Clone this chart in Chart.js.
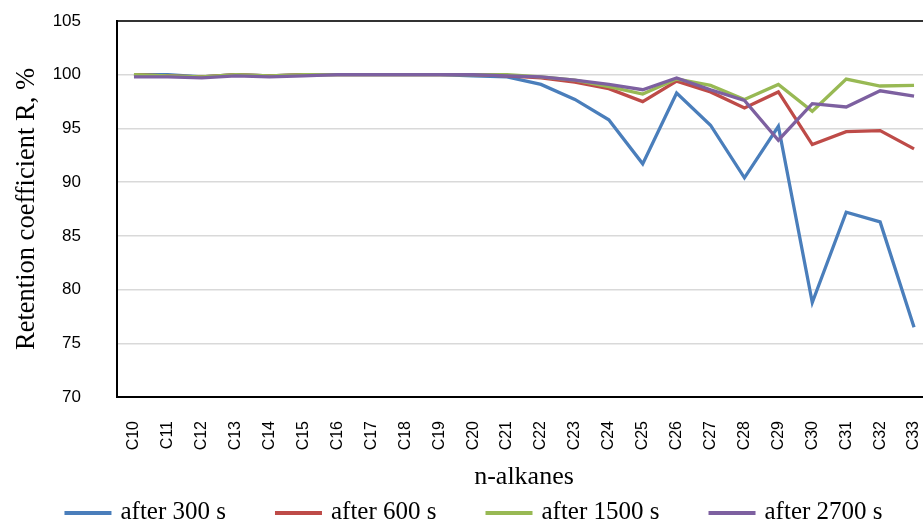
<!DOCTYPE html>
<html>
<head>
<meta charset="utf-8">
<script src="https://cdn.jsdelivr.net/npm/chart.js@4.4.0/dist/chart.umd.min.js"></script>
<style>
  html, body { margin: 0; padding: 0; background: #fff; overflow: hidden; }
  #wrap { width: 923px; height: 524px; overflow: hidden; }
</style>
</head>
<body>
<div id="wrap"><canvas id="lineChart" width="931" height="524"></canvas></div>
<script>
// n-alkanes on the x axis
const alkanes = ["C10","C11","C12","C13","C14","C15","C16","C17","C18","C19","C20","C21",
                 "C22","C23","C24","C25","C26","C27","C28","C29","C30","C31","C32","C33"];

// retention coefficient R, %
const after300 = [100, 100, 99.8, 100, 99.9, 100, 100, 100, 100, 100, 99.9, 99.8,
                  99.1, 97.7, 95.8, 91.7, 98.3, 95.3, 90.4, 95.2, 78.8, 87.2, 86.3, 76.5];
const after600 = [100, 99.9, 99.8, 100, 99.9, 100, 100, 100, 100, 100, 100, 99.9,
                  99.7, 99.3, 98.7, 97.5, 99.4, 98.4, 96.9, 98.4, 93.5, 94.7, 94.8, 93.1];
const after1500 = [100, 99.9, 99.8, 100, 99.9, 100, 100, 100, 100, 100, 100, 100,
                   99.8, 99.5, 98.9, 98.2, 99.6, 99.0, 97.7, 99.1, 96.6, 99.6, 98.95, 99.0];
const after2700 = [99.8, 99.8, 99.7, 99.9, 99.8, 99.9, 100, 100, 100, 100, 100, 99.9,
                   99.8, 99.5, 99.1, 98.6, 99.7, 98.6, 97.6, 93.9, 97.3, 97.0, 98.5, 98.0];

const seriesNames = ["after 300 s", "after 600 s", "after 1500 s", "after 2700 s"];
const yTicks = [70, 75, 80, 85, 90, 95, 100, 105];

const blue = "#4a7ebb", red = "#be4b48", green = "#98b954", purple = "#7d60a0";

function makeSet(name, values, color, order){
    return {
        label: name,
        data: values,
        borderColor: color,
        backgroundColor: color,
        borderWidth: 3.3,
        pointRadius: 0,
        tension: 0,
        fill: false,
        order: order
    };
}

const serif = "'Liberation Serif', 'Times New Roman', serif";
const sans = "'Liberation Sans', Arial, sans-serif";

// legend drawn under the x title, in dataset order, like the Excel one
const bottomLegend = {
    id: "bottomLegend",
    afterDraw: function(chart){
        const ctx = chart.ctx;
        const sets = chart.data.datasets;
        ctx.save();
        ctx.font = "25px " + serif;
        ctx.textBaseline = "middle";
        let widths = sets.map(function(ds){ return ctx.measureText(ds.label).width; });
        let total = 0;
        widths.forEach(function(w){ total += 57 + w; });
        total += 48 * (sets.length - 1);
        let x = 474 - total / 2;
        const y = 513;
        for(let i = 0; i < sets.length; i++){
            ctx.strokeStyle = sets[i].borderColor;
            ctx.lineWidth = 4;
            ctx.beginPath();
            ctx.moveTo(x, y);
            ctx.lineTo(x + 47, y);
            ctx.stroke();
            ctx.fillStyle = "#000";
            ctx.fillText(sets[i].label, x + 56, y - 1);
            x += 57 + widths[i] + 48;
        }
        ctx.restore();
    }
};

const config = {
    type: "line",
    data: {
        labels: alkanes,
        datasets: [
            makeSet(seriesNames[0], after300, blue, 4),
            makeSet(seriesNames[1], after600, red, 3),
            makeSet(seriesNames[2], after1500, green, 2),
            makeSet(seriesNames[3], after2700, purple, 1)
        ]
    },
    options: {
        responsive: false,
        animation: false,
        layout: { padding: { left: 8, top: 21, right: 0, bottom: 31 } },
        plugins: {
            tooltip: { enabled: false },
            legend: { display: false }
        },
        scales: {
            x: {
                offset: true,
                grid: { display: false, drawTicks: false },
                border: { display: true, color: "#000", width: 2 },
                ticks: {
                    color: "#000",
                    font: { family: sans, size: 16 },
                    minRotation: 90,
                    maxRotation: 90,
                    autoSkip: false,
                    padding: 24
                },
                title: {
                    display: true,
                    text: "n-alkanes",
                    color: "#000",
                    font: { family: serif, size: 26 },
                    padding: { top: 0, bottom: 0 }
                },
                afterFit: function(axis){
                    axis.height = 96;
                    axis.paddingLeft = 0;
                    axis.paddingRight = 0;
                }
            },
            y: {
                min: 70,
                max: 105,
                afterBuildTicks: function(axis){
                    axis.ticks = yTicks.map(function(v){ return { value: v }; });
                },
                grid: {
                    drawTicks: false,
                    color: function(ctx){ return ctx.tick && ctx.tick.value === 105 ? "#333" : "#d9d9d9"; },
                    lineWidth: function(ctx){ return ctx.tick && ctx.tick.value === 105 ? 2 : 1.5; }
                },
                border: { display: true, color: "#000", width: 2 },
                ticks: {
                    color: "#000",
                    font: { family: sans, size: 17 },
                    padding: 36
                },
                title: {
                    display: true,
                    text: "Retention coefficient R, %",
                    color: "#000",
                    font: { family: serif, size: 26.5 },
                    padding: { top: 3, bottom: 4 }
                },
                afterFit: function(axis){
                    axis.width = 109;
                    axis.paddingTop = 0;
                    axis.paddingBottom = 0;
                }
            }
        }
    },
    plugins: [bottomLegend]
};

const chart = new Chart(document.getElementById("lineChart"), config);
</script>
</body>
</html>
